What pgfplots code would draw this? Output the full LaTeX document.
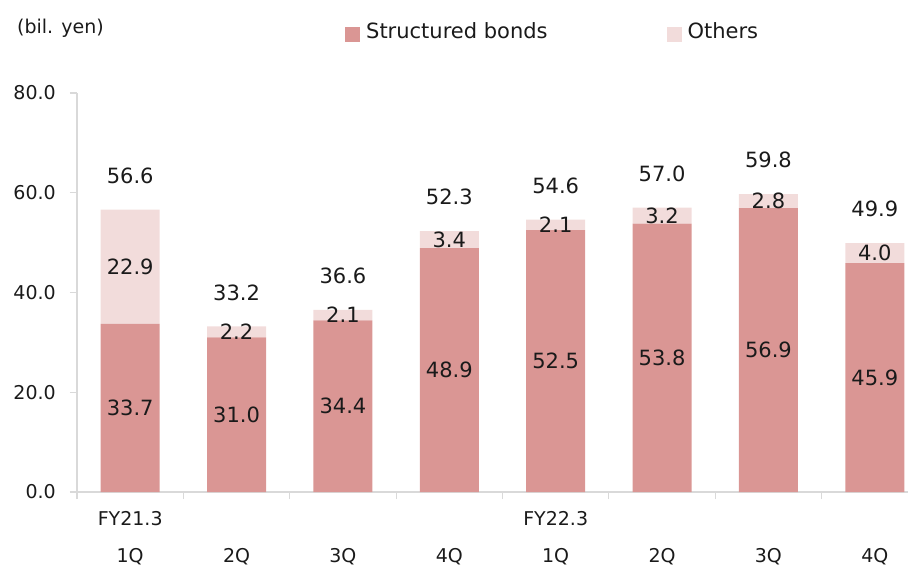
\documentclass[border=0pt]{standalone}
\usepackage{pgfplots}
\usepackage{pgfplotstable}
\usepackage{fontspec}
\setmainfont{DejaVu Sans}
\pgfplotsset{compat=1.18}

\definecolor{sbcol}{HTML}{DA9694}
\definecolor{othcol}{HTML}{F2DCDB}
\definecolor{axgray}{HTML}{D9D9D9}
\definecolor{txt}{HTML}{1A1A1A}

% quarterly balance (bil. yen)
\pgfplotstableread{
x  sb    oth   tot
0  33.7  22.9  56.6
1  31.0  2.2   33.2
2  34.4  2.1   36.6
3  48.9  3.4   52.3
4  52.5  2.1   54.6
5  53.8  3.2   57.0
6  56.9  2.8   59.8
7  45.9  4.0   49.9
}\balance

\newcommand{\onedec}[1]{\pgfmathprintnumber[fixed,fixed zerofill,precision=1]{#1}}

% common geometry of the bar axis and the overlay for totals
\pgfplotsset{
  frame/.style={
    at={(77pt,76pt)}, anchor=south west,
    scale only axis, width=851pt, height=399pt,
    xmin=-0.5, xmax=7.5, ymin=0, ymax=80,
    /pgf/number format/assume math mode=true,
  },
}

\begin{document}
\begin{tikzpicture}
\useasboundingbox (0,0) rectangle (908pt,568pt);
\begin{axis}[
  frame,
  ybar stacked, bar width=59pt,
  axis x line=bottom, axis y line=left,
  axis line style={-, draw=axgray, line width=1.5pt},
  tick style={draw=axgray, line width=1.2pt},
  tick align=outside, major tick length=7pt,
  ytick={0,20,...,80},
  yticklabel={\onedec{\tick}},
  yticklabel style={anchor=east, inner sep=0pt, xshift=-14pt,
    font=\fontsize{19}{23}\selectfont, text=txt},
  xtick={-0.5,0.5,...,7.5},
  x tick label as interval,
  xticklabels={{FY21.3\\1Q},{\vphantom{FY}\\2Q},{\vphantom{FY}\\3Q},{\vphantom{FY}\\4Q},
               {FY22.3\\1Q},{\vphantom{FY}\\2Q},{\vphantom{FY}\\3Q},{\vphantom{FY}\\4Q}},
  xticklabel style={align=center, anchor=north, inner sep=0pt, yshift=-12pt,
    font=\fontsize{19}{37}\selectfont, text=txt},
  point meta=explicit,
  nodes near coords={\onedec{\pgfplotspointmeta}},
  nodes near coords style={font=\fontsize{21}{25}\selectfont, text=txt,
    anchor=center},
  legend style={at={(axis description cs:0.3149,1.1525)}, anchor=west,
    draw=none, fill=none, inner sep=0pt,
    font=\fontsize{21}{25}\selectfont, text=txt,
    nodes={inner sep=0pt},
    /tikz/every odd column/.append style={column sep=6pt},
    /tikz/every even column/.append style={column sep=119pt}},
  legend columns=2,
  legend image code/.code={\fill[#1] (0pt,-10.2pt) rectangle (15pt,4.8pt);},
]
% segment values, centred in each segment
\addplot[fill=sbcol, draw=none] table[x=x, y=sb, meta=sb] {\balance};
\addlegendentry{Structured bonds}
\addplot[fill=othcol, draw=none] table[x=x, y=oth, meta=oth] {\balance};
\addlegendentry{Others}
\end{axis}
% totals above each stack
\begin{axis}[frame, hide axis,
  point meta=explicit,
  nodes near coords={\onedec{\pgfplotspointmeta}},
  nodes near coords style={font=\fontsize{21}{25}\selectfont, text=txt,
    anchor=center, yshift=34pt}]
\addplot[draw=none, mark=none] table[x=x, y=tot, meta=tot] {\balance};
\end{axis}
\node[anchor=west, inner sep=0pt, font=\fontsize{19}{23}\selectfont, text=txt]
  at (17pt,540pt) {(bil. yen)};
\end{tikzpicture}
\end{document}
